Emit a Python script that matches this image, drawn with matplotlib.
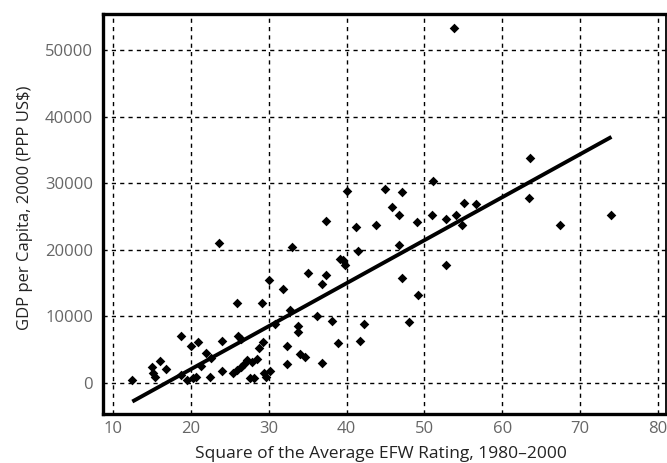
import numpy as np
import matplotlib.pyplot as plt

# Square of average EFW rating vs GDP per capita
efw_sq = [12.5, 15.0, 15.2, 15.4, 16.0, 16.8, 18.8, 18.8, 19.5, 20.0,
          20.3, 20.7, 20.9, 21.3, 22.0, 22.5, 22.6, 23.6, 24.0, 24.0,
          25.4, 25.9, 25.9, 26.1, 26.4, 26.5, 26.8, 27.2, 27.6, 27.9,
          28.1, 28.5, 28.8, 29.1, 29.3, 29.4, 29.7, 30.0, 30.2, 30.8,
          31.9, 32.3, 32.3, 32.7, 33.0, 33.8, 33.8, 34.0, 34.6, 35.1,
          36.2, 36.8, 36.8, 37.3, 37.4, 38.1, 38.9, 39.1, 39.5, 39.8,
          40.1, 41.2, 41.5, 41.7, 42.2, 43.8, 44.9, 45.8, 46.7, 46.7,
          47.1, 47.1, 48.0, 49.0, 49.2, 51.0, 51.1, 52.7, 52.8, 53.8,
          54.1, 54.8, 55.1, 56.6, 63.4, 63.5, 67.4, 73.9]
gdp = [500, 2400, 1500, 900, 3300, 2100, 7100, 1200, 500, 5500,
       700, 900, 6100, 2500, 4500, 900, 3700, 21000, 6300, 1800,
       1500, 2000, 12000, 7000, 6600, 2400, 2900, 3500, 700, 3100,
       800, 3600, 5200, 12000, 6100, 1500, 950, 15500, 1800, 8800,
       14100, 5600, 2900, 11000, 20400, 8600, 7700, 4400, 3900, 16600,
       10100, 14900, 3000, 16300, 24300, 9300, 6000, 18600, 18500, 17800,
       28900, 23400, 19800, 6300, 8900, 23800, 29100, 26400, 25300, 20700,
       28700, 15800, 9100, 24200, 13200, 25200, 30400, 17800, 24600, 53400,
       25300, 23800, 27000, 26900, 27800, 33900, 23700, 25200]

# regression line end points
fit_x = [12.5, 74.0]
fit_y = [-2800, 37000]

x_ticks = [10, 20, 30, 40, 50, 60, 70, 80]
y_ticks = [0, 10000, 20000, 30000, 40000, 50000]

plt.rcParams['font.family'] = ['Open Sans', 'DejaVu Sans']

fig = plt.figure(figsize=(6.67, 4.63), dpi=100)
ax = fig.add_axes([0.154, 0.106, 0.8445, 0.864])

ax.scatter(efw_sq, gdp, marker='D', s=24, color='black', zorder=3, linewidths=0)
ax.plot(fit_x, fit_y, color='black', lw=2.8, solid_capstyle='butt', zorder=4)

ax.set_xlim(8.7, 81.0)
ax.set_ylim(-4660, 55500)
ax.set_xticks(x_ticks)
ax.set_yticks(y_ticks)
ax.grid(True, color='black', linestyle=(0, (3, 3)), lw=1.0)
ax.tick_params(length=0, labelsize=12, labelcolor='#666666')
ax.tick_params(axis='y', pad=7)
ax.tick_params(axis='x', pad=5)

for side in ['left', 'top', 'bottom']:
    ax.spines[side].set_linewidth(2.4)
ax.spines['right'].set_linewidth(1.3)

ax.set_xlabel('Square of the Average EFW Rating, 1980\u20132000', fontsize=12.5,
              color='#222222')
ax.xaxis.set_label_coords(0.494, -0.08)
ax.set_ylabel('GDP per Capita, 2000 (PPP US$)', fontsize=12,
              color='#222222')
ax.yaxis.set_label_coords(-0.124, 0.515)

fig.savefig('out.png', dpi=100)
